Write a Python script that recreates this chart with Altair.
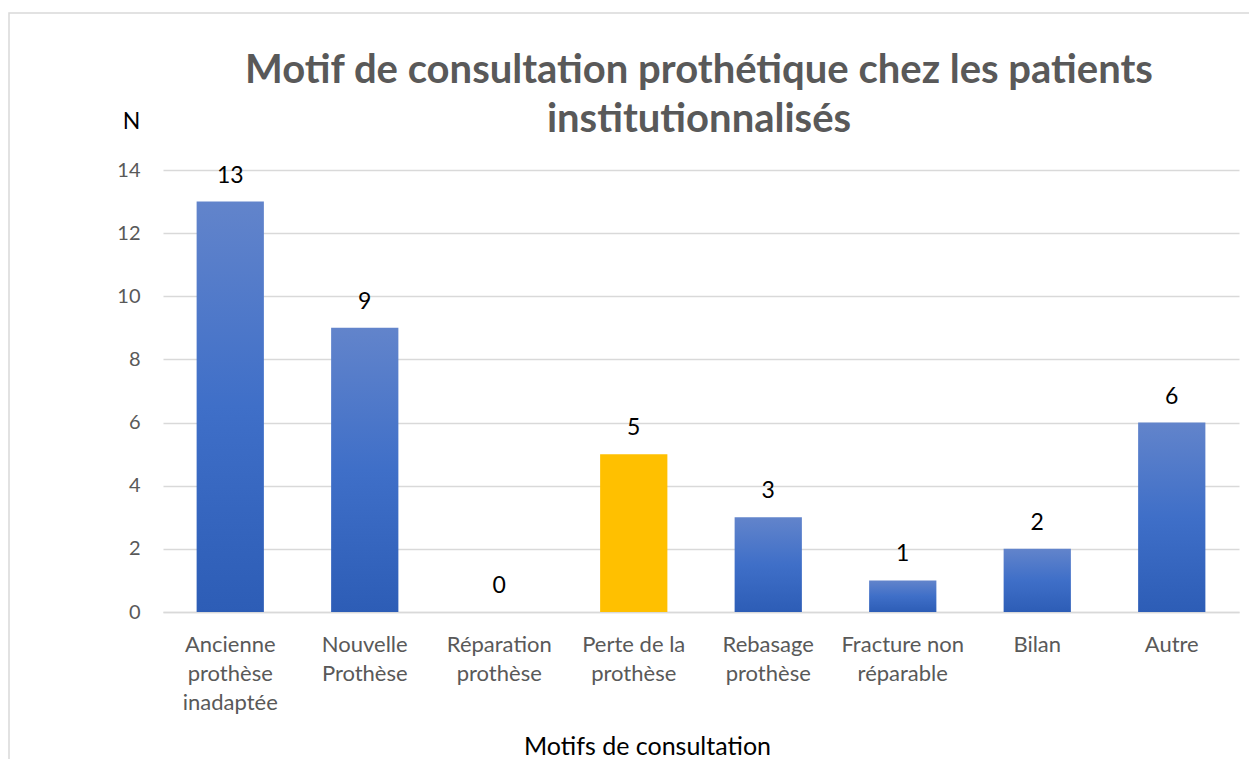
import altair as alt
import pandas as pd

categories = [
    "Ancienne\nprothèse\ninadaptée",
    "Nouvelle\nProthèse",
    "Réparation\nprothèse",
    "Perte de la\nprothèse",
    "Rebasage\nprothèse",
    "Fracture non\nréparable",
    "Bilan",
    "Autre",
]
counts = [13, 9, 0, 5, 3, 1, 2, 6]
title_lines = ["Motif de consultation prothétique chez les patients", "institutionnalisés"]
x_title = "Motifs de consultation"
y_title = "N"

df = pd.DataFrame({"cat": categories, "n": counts})

FONT = "Lato"
GRAY = "#595959"

gradient = alt.LinearGradient(
    gradient="linear",
    stops=[
        alt.GradientStop(color="#6284CB", offset=0),
        alt.GradientStop(color="#3F6FC8", offset=0.5),
        alt.GradientStop(color="#2D5DB6", offset=1),
    ],
    x1=0, x2=0, y1=0, y2=1,
)

x_enc = alt.X(
    "cat:N",
    sort=categories,
    scale=alt.Scale(paddingInner=0.5, paddingOuter=0.25),
    axis=alt.Axis(
        title=x_title,
        titleFont=FONT,
        titleFontSize=25,
        titleFontWeight="normal",
        titleColor="#000000",
        titleX=484,
        titleY=142,
        titleAlign="center",
        titleBaseline="alphabetic",
        labelExpr="split(datum.value, '\\n')",
        labelFont=FONT,
        labelFontSize=22,
        labelColor=GRAY,
        labelAngle=0,
        labelPadding=39,
        labelLineHeight=29,
        labelBaseline="alphabetic",
        ticks=False,
        domainColor="#d9d9d9",
        domainWidth=1.5,
        grid=False,
    ),
)
y_enc = alt.Y(
    "n:Q",
    scale=alt.Scale(domain=[0, 14]),
    axis=alt.Axis(
        values=[0, 2, 4, 6, 8, 10, 12, 14],
        title=y_title,
        titleAngle=0,
        titleX=-32,
        titleY=-49,
        titleAlign="center",
        titleBaseline="middle",
        titleFont=FONT,
        titleFontSize=23,
        titleFontWeight="normal",
        titleColor="#000000",
        labelFont=FONT,
        labelFontSize=20,
        labelColor=GRAY,
        labelPadding=23,
        ticks=False,
        domain=False,
        gridColor="#d9d9d9",
        gridWidth=1.5,
    ),
)

base = alt.Chart(df)

bars_blue = base.mark_bar(color=gradient).encode(x=x_enc, y=y_enc).transform_filter(
    "indexof(datum.cat, 'Perte') < 0"
)
bars_yellow = base.mark_bar(color="#FFC000").encode(x=x_enc, y=y_enc).transform_filter(
    "indexof(datum.cat, 'Perte') >= 0"
)
labels = base.mark_text(
    font=FONT, fontSize=23, color="#000000", baseline="alphabetic", dy=-19
).encode(x=x_enc, y=y_enc, text="n:Q")

one = pd.DataFrame({"k": [0]})

frame = alt.Chart(one).mark_rect(
    filled=False, stroke="#d9d9d9", strokeWidth=1.5
).encode(x=alt.value(-154), x2=alt.value(1093), y=alt.value(-157), y2=alt.value(640))

title = alt.Chart(one).mark_text(
    text=title_lines,
    font=FONT,
    fontSize=40,
    fontWeight="bold",
    color=GRAY,
    align="center",
    baseline="alphabetic",
    lineHeight=49,
).encode(x=alt.value(536), y=alt.value(-87))

chart = alt.layer(frame, bars_blue, bars_yellow, labels, title).properties(
    width=1076,
    height=442,
    autosize=alt.AutoSizeParams(type="none"),
    padding={"left": 155, "top": 162, "right": 10, "bottom": 147},
).configure_view(stroke=None)

chart.save("out.html", embed_options={"renderer": "svg", "actions": False})
